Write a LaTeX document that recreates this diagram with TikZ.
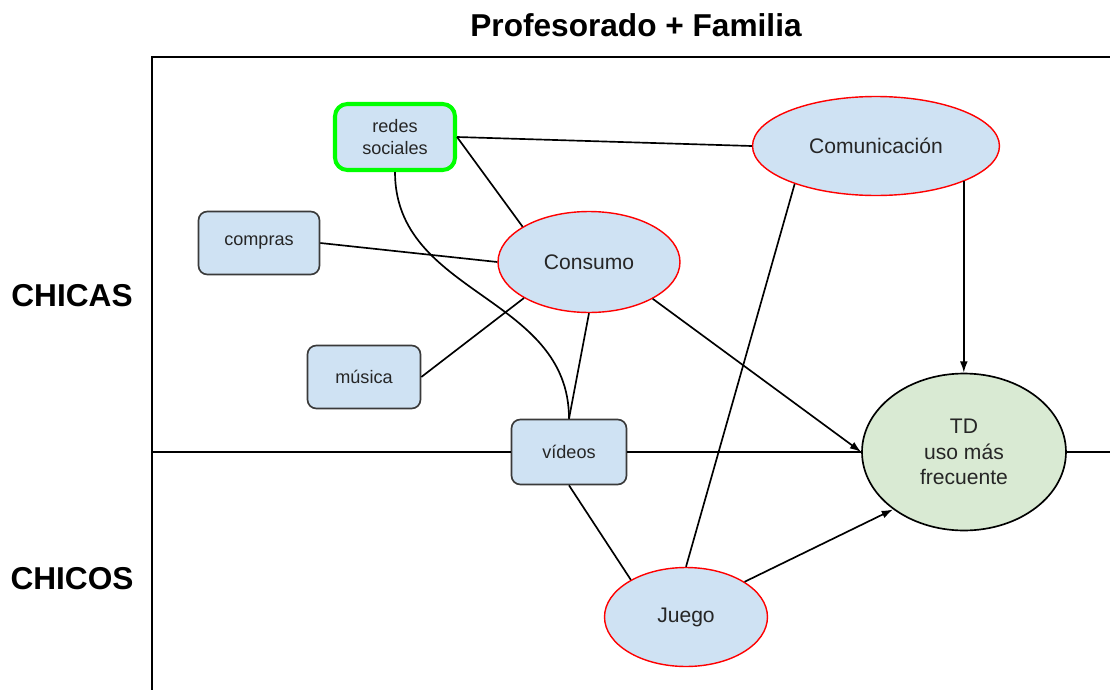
\documentclass[tikz,border=0pt]{standalone}
\usepackage{fontspec}
\setmainfont{Liberation Sans}
\usetikzlibrary{shapes.geometric,arrows.meta}
\definecolor{azul}{HTML}{CFE2F3}
\definecolor{verdeclaro}{HTML}{D9EAD3}
\definecolor{verdeborde}{HTML}{00FF00}
\definecolor{borde}{HTML}{3A3A3A}
\definecolor{texto}{HTML}{262626}

\begin{document}
\begin{tikzpicture}[x=0.02cm,y=-0.02cm,line width=0.95pt,
		caja/.style={draw=borde,fill=azul,rounded corners=5pt,text=texto,align=center,inner sep=0pt,font=\fontsize{10.3}{13}\selectfont},
		elipse/.style={ellipse,draw=red,line width=0.8pt,fill=azul,text=texto,align=center,inner sep=0pt,font=\fontsize{12}{14.5}\selectfont},
		rotulo/.style={font=\bfseries\fontsize{18}{22}\selectfont},
		flecha/.style={-{Latex[length=6.5pt,width=4.5pt]}}]
	\useasboundingbox (0,0) rectangle (1110,690);

	\node[rotulo] (titulo) at (636,25) {Profesorado + Familia};
	\node[rotulo] (chicas) at (72,296) {CHICAS};
	\node[rotulo] (chicos) at (72,579) {CHICOS};
	\draw (1110,57) -- (152,57) -- (152,690);

	\node[caja,minimum width=2.4cm,minimum height=1.32cm,draw=verdeborde,line width=2.3pt,rounded corners=7pt] (redes) at (395,137) {redes\\sociales};
	\node[caja,minimum width=2.42cm,minimum height=1.26cm] (compras) at (259,243) {compras};
	\node[caja,minimum width=2.26cm,minimum height=1.26cm] (musica) at (364,377) {música};
	\node[caja,minimum width=2.3cm,minimum height=1.3cm] (videos) at (569,452) {vídeos};

	\node[elipse,minimum width=3.64cm,minimum height=2.02cm] (consumo) at (589,262) {Consumo};
	\node[elipse,minimum width=4.94cm,minimum height=1.98cm] (comunicacion) at (876,146) {Comunicación};
	\node[elipse,minimum width=3.26cm,minimum height=1.98cm] (juego) at (686,617) {Juego};
	\node[elipse,draw=black,line width=0.95pt,fill=verdeclaro,minimum width=4.08cm,minimum height=3.14cm] (td) at (964,452) {TD\\uso más\\frecuente};

	\coordinate (ejeizq) at (152,452);
	\coordinate (ejeder) at (1110,452);
	\draw (ejeizq) -- (videos.west);
	\draw (videos.east) -- (td.west);
	\draw (td.east) -- (ejeder);

	\draw (redes.east) -- (comunicacion.west);
	\draw (redes.east) -- (consumo.152);
	\draw (redes.south) to[out=-90,in=90,looseness=1.05] (videos.north);
	\draw (compras.east) -- (consumo.west);
	\draw (musica.east) -- (consumo.209);
	\draw (consumo.south) -- (videos.north);
	\draw (comunicacion.205) -- (juego.north);
	\draw (videos.south) -- (juego.146);

	\draw[flecha] (consumo.-30) -- (td.west);
	\draw[flecha] (comunicacion.338) -- (comunicacion.338 |- td.north);
	\draw[flecha] (juego.31) -- (td.219);
\end{tikzpicture}
\end{document}
